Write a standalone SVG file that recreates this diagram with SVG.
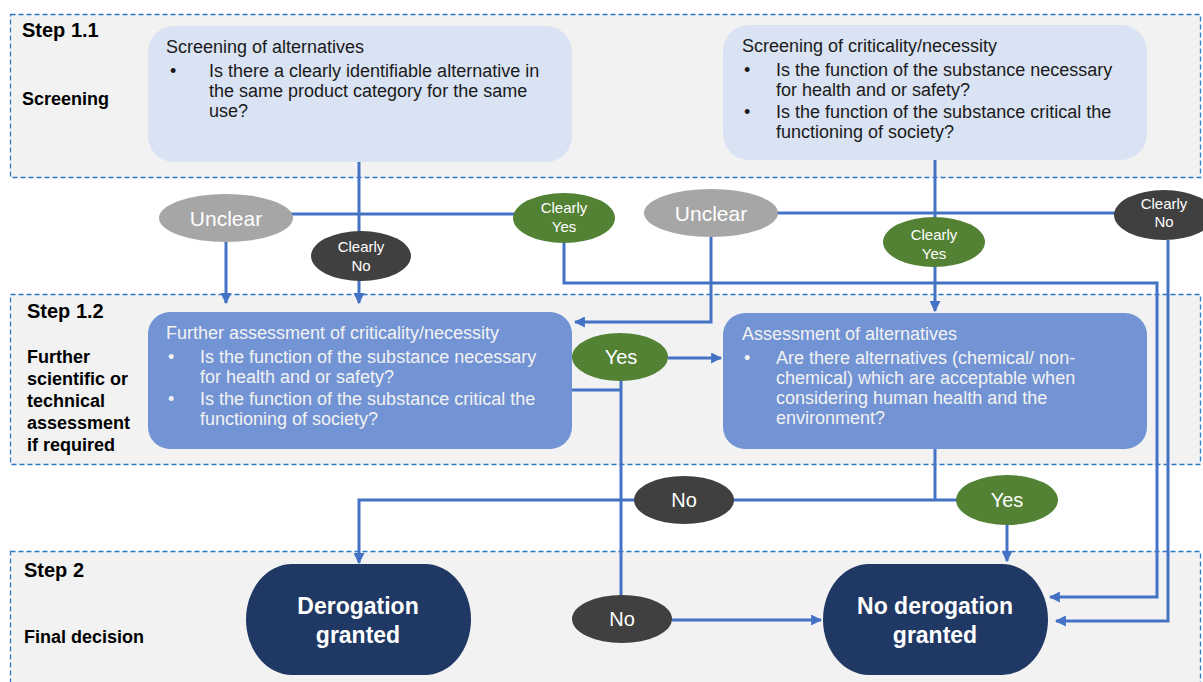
<svg xmlns="http://www.w3.org/2000/svg" width="1203" height="682" viewBox="0 0 1203 682">
<style>
.panel{fill:#f2f2f2;stroke:#2e78c4;stroke-width:1.3;stroke-dasharray:5,3}
.lbl{font-family:"Liberation Sans",Arial,sans-serif;font-weight:bold;fill:#000}
.box1{fill:#dae3f3}
.box2{fill:#7294d4}
.t1{font-family:"Liberation Sans",Arial,sans-serif;font-size:18px;fill:#1a1a1a}
.t2{font-family:"Liberation Sans",Arial,sans-serif;font-size:18px;fill:#f2f2f2}
.conn{fill:none;stroke:#4472c4;stroke-width:3}
.et{font-family:"Liberation Sans",Arial,sans-serif;fill:#fff;text-anchor:middle}
.gray{fill:#a6a6a6}
.dark{fill:#404040}
.green{fill:#548235}
.final{fill:#203864}
.ft{font-family:"Liberation Sans",Arial,sans-serif;font-weight:bold;font-size:23px;fill:#fff;text-anchor:middle}
</style>
<defs>
<marker id="ah" viewBox="0 0 10 10" refX="9" refY="5" markerWidth="11" markerHeight="11" markerUnits="userSpaceOnUse" orient="auto">
<path d="M0,0 L10,5 L0,10 Z" fill="#4472c4"/>
</marker>
</defs>
<rect width="1203" height="682" fill="#fff"/>
<g id="panels">
<rect class="panel" x="10.5" y="14.5" width="1190" height="163"/>
<rect class="panel" x="10.5" y="294.5" width="1190" height="170"/>
<rect class="panel" x="10.5" y="551.5" width="1190" height="140"/>
<text class="lbl" x="22" y="37" font-size="20">Step 1.1</text>
<text class="lbl" x="22" y="105" font-size="18">Screening</text>
<text class="lbl" x="27" y="318" font-size="20">Step 1.2</text>
<text class="lbl" font-size="18"><tspan x="27" y="363">Further</tspan><tspan x="27" y="385">scientific or</tspan><tspan x="27" y="407">technical</tspan><tspan x="27" y="429">assessment</tspan><tspan x="27" y="451">if required</tspan></text>
<text class="lbl" x="24" y="577" font-size="20">Step 2</text>
<text class="lbl" x="24" y="643" font-size="18">Final decision</text>
</g>
<g id="connectors">
<path class="conn" d="M359,162 V303" marker-end="url(#ah)"/>
<path class="conn" d="M226,214 H564"/>
<path class="conn" d="M226,242 V303" marker-end="url(#ah)"/>
<path class="conn" d="M564,243 V283 H1157 V597 H1050" marker-end="url(#ah)"/>
<path class="conn" d="M711,237 V322 H575" marker-end="url(#ah)"/>
<path class="conn" d="M711,213 H1164"/>
<path class="conn" d="M935,160 V311" marker-end="url(#ah)"/>
<path class="conn" d="M1168,240 V621 H1056" marker-end="url(#ah)"/>
<path class="conn" d="M668,358 H721" marker-end="url(#ah)"/>
<path class="conn" d="M572,390 H621"/>
<path class="conn" d="M621,357 V600"/>
<path class="conn" d="M672,620 H821" marker-end="url(#ah)"/>
<path class="conn" d="M935,449 V500"/>
<path class="conn" d="M684,500 H1007"/>
<path class="conn" d="M1007,525 V561" marker-end="url(#ah)"/>
<path class="conn" d="M634,500 H359 V563" marker-end="url(#ah)"/>
</g>
<g id="screen-alt">
<rect class="box1" x="148" y="26" width="424" height="136" rx="26"/>
<text class="t1" x="166" y="53">Screening of alternatives</text>
<text class="t1" x="170" y="77">•</text>
<text class="t1"><tspan x="209" y="77">Is there a clearly identifiable alternative in</tspan><tspan x="209" y="97">the same product category for the same</tspan><tspan x="209" y="117">use?</tspan></text>
</g>
<g id="screen-crit">
<rect class="box1" x="723" y="25" width="424" height="135" rx="26"/>
<text class="t1" x="742" y="52">Screening of criticality/necessity</text>
<text class="t1" x="744" y="76">•</text>
<text class="t1" x="744" y="118">•</text>
<text class="t1"><tspan x="776" y="76">Is the function of the substance necessary</tspan><tspan x="776" y="96">for health and or safety?</tspan><tspan x="776" y="118">Is the function of the substance critical the</tspan><tspan x="776" y="138">functioning of society?</tspan></text>
</g>
<g id="further-assess">
<rect class="box2" x="148" y="312" width="424" height="137" rx="22"/>
<text class="t2" x="166" y="339">Further assessment of criticality/necessity</text>
<text class="t2" x="168" y="363">•</text>
<text class="t2" x="168" y="405">•</text>
<text class="t2"><tspan x="200" y="363">Is the function of the substance necessary</tspan><tspan x="200" y="383">for health and or safety?</tspan><tspan x="200" y="405">Is the function of the substance critical the</tspan><tspan x="200" y="425">functioning of society?</tspan></text>
</g>
<g id="assess-alt">
<rect class="box2" x="723" y="313" width="424" height="136" rx="22"/>
<text class="t2" x="742" y="340">Assessment of alternatives</text>
<text class="t2" x="744" y="364">•</text>
<text class="t2"><tspan x="776" y="364">Are there alternatives (chemical/ non-</tspan><tspan x="776" y="384">chemical) which are acceptable when</tspan><tspan x="776" y="404">considering human health and the</tspan><tspan x="776" y="424">environment?</tspan></text>
</g>
<g id="unclear1">
<ellipse class="gray" cx="226" cy="218" rx="67" ry="24"/>
<text class="et" x="226" y="226" font-size="21">Unclear</text>
</g>
<g id="clearlyno1">
<ellipse class="dark" cx="361" cy="256" rx="50" ry="25"/>
<text class="et" font-size="15"><tspan x="361" y="252">Clearly</tspan><tspan x="361" y="271">No</tspan></text>
</g>
<g id="clearlyyes1">
<ellipse class="green" cx="564" cy="218" rx="51" ry="25"/>
<text class="et" font-size="15"><tspan x="564" y="213">Clearly</tspan><tspan x="564" y="232">Yes</tspan></text>
</g>
<g id="unclear2">
<ellipse class="gray" cx="711" cy="213" rx="67" ry="24"/>
<text class="et" x="711" y="221" font-size="21">Unclear</text>
</g>
<g id="clearlyyes2">
<ellipse class="green" cx="934" cy="242" rx="51" ry="25"/>
<text class="et" font-size="15"><tspan x="934" y="240">Clearly</tspan><tspan x="934" y="259">Yes</tspan></text>
</g>
<g id="clearlyno2">
<ellipse class="dark" cx="1164" cy="215" rx="50" ry="25"/>
<text class="et" font-size="15"><tspan x="1164" y="209">Clearly</tspan><tspan x="1164" y="227">No</tspan></text>
</g>
<g id="yes1">
<ellipse class="green" cx="620" cy="357" rx="48" ry="24"/>
<text class="et" x="621" y="364" font-size="20">Yes</text>
</g>
<g id="no2">
<ellipse class="dark" cx="684" cy="500" rx="50" ry="24"/>
<text class="et" x="684" y="507" font-size="20">No</text>
</g>
<g id="yes2">
<ellipse class="green" cx="1007" cy="500" rx="51" ry="25"/>
<text class="et" x="1007" y="507" font-size="20">Yes</text>
</g>
<g id="no3">
<ellipse class="dark" cx="622" cy="619" rx="50" ry="24"/>
<text class="et" x="622" y="626" font-size="20">No</text>
</g>
<g id="derogation">
<path class="final" d="M292,564 H425 A46,55.5 0 0 1 425,675 H292 A46,55.5 0 0 1 292,564 Z"/>
<text class="ft"><tspan x="358" y="614">Derogation</tspan><tspan x="358" y="643">granted</tspan></text>
</g>
<g id="no-derogation">
<path class="final" d="M869,564 H1002 A46,55.5 0 0 1 1002,675 H869 A46,55.5 0 0 1 869,564 Z"/>
<text class="ft"><tspan x="935" y="614">No derogation</tspan><tspan x="935" y="643">granted</tspan></text>
</g>
</svg>
